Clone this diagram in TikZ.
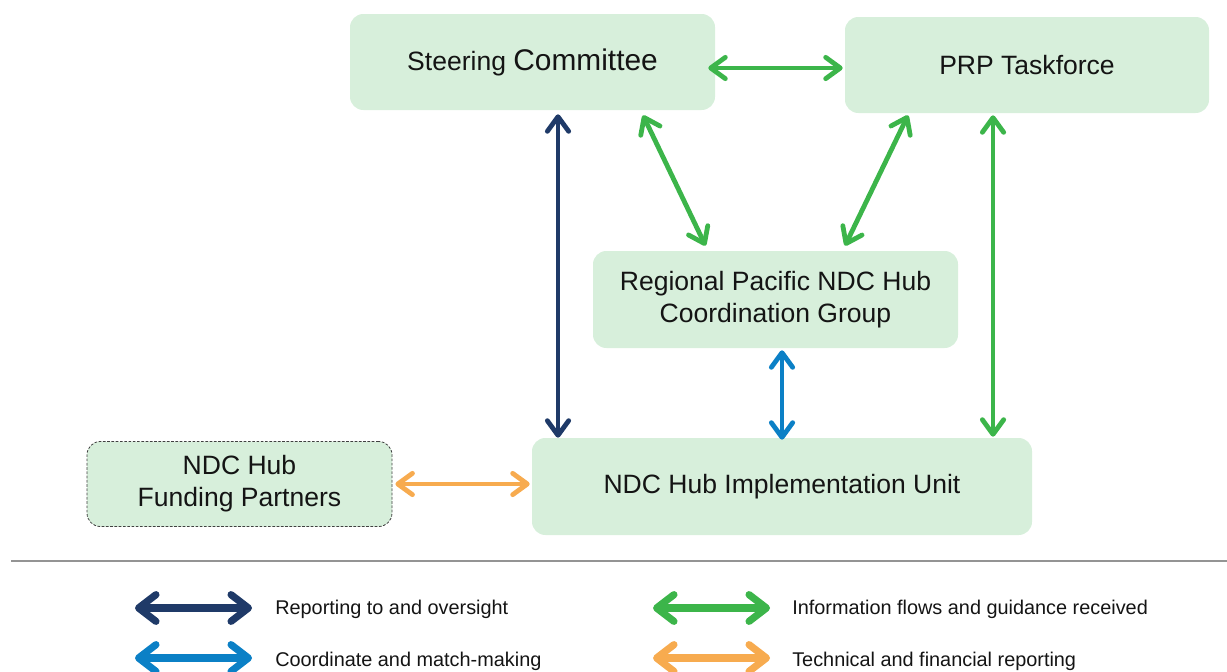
\documentclass[tikz,border=0pt]{standalone}
\usepackage{fontspec}
\setmainfont{Liberation Sans}
\usetikzlibrary{arrows.meta}

\definecolor{boxfill}{HTML}{D7EFDB}
\definecolor{navyline}{HTML}{1F3A68}
\definecolor{blueline}{HTML}{0B80C6}
\definecolor{greenline}{HTML}{3CB54A}
\definecolor{orangeline}{HTML}{F7AB4F}
\definecolor{inktext}{HTML}{141414}

\newcommand{\boxfont}{\fontsize{19.9pt}{24pt}\selectfont}
\newcommand{\bigboxfont}{\fontsize{22.4pt}{24pt}\selectfont}
\newcommand{\legfont}{\fontsize{14.9pt}{18pt}\selectfont}

\tikzset{
  orgbox/.style={fill=boxfill, rounded corners=10pt, inner sep=0pt,
    align=center, font=\boxfont, text=inktext},
  link/.style={line width=3.6pt, line cap=round,
    {Straight Barb[length=11pt,width=16pt,round]}-{Straight Barb[length=11pt,width=16pt,round]}},
  keylink/.style={line width=5.4pt, line cap=round,
    {Straight Barb[length=13pt,width=20pt,round]}-{Straight Barb[length=13pt,width=20pt,round]}},
  keytext/.style={anchor=west, inner sep=0pt, font=\legfont, text=inktext},
}

\begin{document}
\begin{tikzpicture}[x=0.75pt,y=-0.75pt]
\useasboundingbox (0,0) rectangle (1227,671);

% organisational bodies
\node[orgbox, minimum width=365*0.75pt, minimum height=96*0.75pt] (sc) at (532.5,62)
  {Steering {\bigboxfont Committee}};
\node[orgbox, minimum width=364*0.75pt, minimum height=96*0.75pt] (prp) at (1027,65)
  {PRP Taskforce};
\node[orgbox, minimum width=365*0.75pt, minimum height=97*0.75pt] (reg) at (775.5,299.5)
  {Regional Pacific NDC Hub\\Coordination Group};
\node[orgbox, minimum width=500*0.75pt, minimum height=97*0.75pt] (imp) at (782,486.5)
  {NDC Hub Implementation Unit};
\node[orgbox, draw=black!75, line width=0.6pt, dash pattern=on 2pt off 1.2pt,
  minimum width=305*0.75pt, minimum height=85*0.75pt] (fund) at (239.5,484)
  {NDC Hub\\Funding Partners};

% relationships between bodies
\draw[link, greenline] ([shift={(-7,6)}]sc.east) -- ([shift={(-2,3)}]prp.west);
\draw[link, navyline] ([shift={(25.5,4)}]sc.south) -- ([shift={(-224,0)}]imp.north);
\draw[link, greenline] ([shift={(110.5,5)}]sc.south) -- ([shift={(-70,-5)}]reg.north);
\draw[link, greenline] ([shift={(-119,2)}]prp.south) -- ([shift={(69.5,-5)}]reg.north);
\draw[link, greenline] ([shift={(-34,2)}]prp.south) -- ([shift={(211,-1)}]imp.north);
\draw[link, blueline] ([shift={(6.5,2)}]reg.south) -- ([shift={(0,2)}]imp.north);
\draw[link, orangeline] ([shift={(3,0)}]fund.east) -- ([shift={(-2,-2.5)}]imp.west);

% separator
\coordinate (sepL) at (11,561);
\coordinate (sepR) at (1227,561);
\draw[line width=1.1pt, black!42] (sepL) -- (sepR);

% legend
\coordinate (k1a) at (135,608); \coordinate (k1b) at (252,608);
\coordinate (k2a) at (135,658); \coordinate (k2b) at (252,658);
\coordinate (k3a) at (653,608); \coordinate (k3b) at (770,608);
\coordinate (k4a) at (653,658); \coordinate (k4b) at (770,658);
\draw[keylink, navyline] (k1a) -- (k1b);
\draw[keylink, blueline] (k2a) -- (k2b);
\draw[keylink, greenline] (k3a) -- (k3b);
\draw[keylink, orangeline] (k4a) -- (k4b);
\node[keytext] (t1) at (275,609.5) {Reporting to and oversight};
\node[keytext] (t2) at (275,661.5) {Coordinate and match-making};
\node[keytext] (t3) at (792,609.5) {Information flows and guidance received};
\node[keytext] (t4) at (792,661.5) {Technical and financial reporting};
\end{tikzpicture}
\end{document}
